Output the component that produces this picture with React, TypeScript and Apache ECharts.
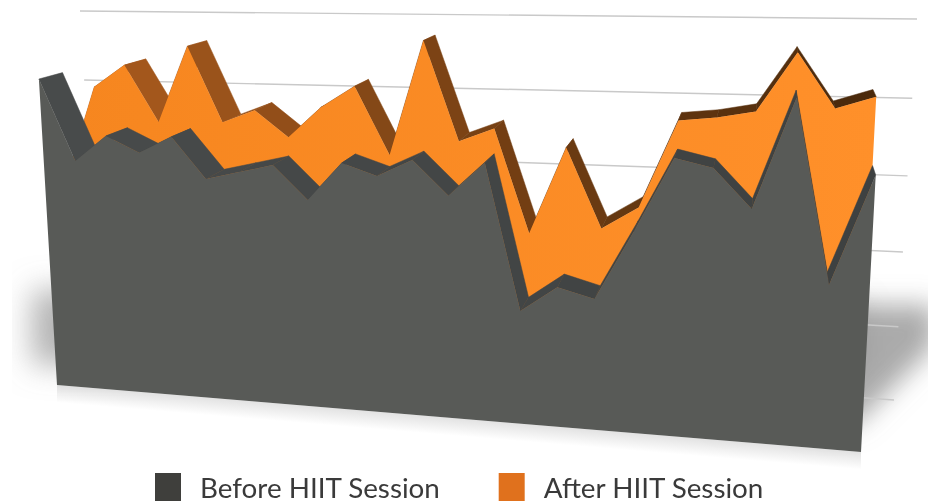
import React, { useEffect, useRef } from "react";
import * as echarts from "echarts";

const beforeValues = [86.2, 63.4, 70.7, 66.3, 71.0, 59.8, 62.0, 64.2, 55.2, 65.4, 62.3, 66.8, 57.8, 66.7, 28.9, 35.6, 33.1, 50.6, 69.5, 67.3, 57.5, 85.3, 39.8, 66.9];
const afterValues = [57.2, 82.2, 88.7, 72.6, 94.4, 73.1, 76.7, 69.4, 78.0, 84.0, 65.4, 96.8, 69.8, 73.5, 45.9, 69.0, 48.1, 54.0, 76.9, 77.9, 79.7, 94.9, 80.9, 84.1];
const gridValues = [0, 20, 40, 60, 80, 100];
const BEFORE = "Before HIIT Session";
const AFTER = "After HIIT Session";

const VP = [777, -120];
const warp = (s: number, r: number) => s / (r - (r - 1) * s);
const lerp = (a: number, b: number, t: number) => a + (b - a) * t;
const depth = (p: number[], k: number) => [p[0] + (VP[0] - p[0]) * k, p[1] + (VP[1] - p[1]) * k];

function frontPoint(c: number[], rect: any, k: number) {
  const u = warp((c[0] - rect.x) / rect.width, 1.15);
  const v = (rect.y + rect.height - c[1]) / rect.height;
  const bx = 57 + 804 * u, by = 385 + 67 * u, tx = 36 + 847 * u, ty = 30 + 8 * u;
  return depth([lerp(bx, tx, v), lerp(by, ty, v)], k);
}
function wallPoint(c: number[], rect: any) {
  const u = (c[0] - rect.x) / rect.width;
  const v = warp((rect.y + rect.height - c[1]) / rect.height, 1.05);
  return [lerp(lerp(100, 894, u), lerp(80, 917, u), v), lerp(lerp(343, 400, u), lerp(11, 19, u), v)];
}
function hex(c: number[]) {
  return "rgb(" + c.map((x) => Math.round(x)).join(",") + ")";
}

const faceSeries = (name: string, values: number[], k: number, fill: any, z: number, legendColor: string) => ({
  type: "custom",
  name,
  z,
  silent: true,
  coordinateSystem: "cartesian2d",
  itemStyle: { color: legendColor },
  data: values.map((v, i) => [i, v]),
  clip: false,
  renderItem: (params: any, api: any) => {
    if (params.dataIndex !== 0) return null;
    const rect = params.coordSys;
    const pts = values.map((v, i) => frontPoint(api.coord([i, v]), rect, k));
    pts.push(frontPoint(api.coord([values.length - 1, 0]), rect, k));
    pts.push(frontPoint(api.coord([0, 0]), rect, k));
    return { type: "polygon", shape: { points: pts }, style: { fill } };
  },
});

const sideSeries = (values: number[], k0: number, k1: number, from: number[], to: number[], z: number) => ({
  type: "custom",
  z,
  silent: true,
  coordinateSystem: "cartesian2d",
  data: values.map((v, i) => [i, v]),
  clip: false,
  renderItem: (params: any, api: any) => {
    const i = params.dataIndex;
    if (i >= values.length - 1) return null;
    const rect = params.coordSys;
    const a = api.coord([i, values[i]]);
    const b = api.coord([i + 1, values[i + 1]]);
    const t = i / (values.length - 2);
    const pts = [frontPoint(a, rect, k0), frontPoint(b, rect, k0), frontPoint(b, rect, k1), frontPoint(a, rect, k1)];
    const col = hex([0, 1, 2].map((n) => lerp(from[n], to[n], t)));
    return { type: "polygon", shape: { points: pts }, style: { fill: col, stroke: col, lineWidth: 0.5 } };
  },
});

// A polygon hidden behind the dark face that only throws its blurred shadow past the face's edge.
const castShadow = (points: number[][], offsetX: number, blur: number, color: string) => ({
  type: "polygon",
  z: 0,
  silent: true,
  shape: { points },
  style: { fill: "#5a5c59", shadowBlur: blur, shadowColor: color, shadowOffsetX: offsetX, shadowOffsetY: 0 },
});

export default function App() {
  const ref = useRef<HTMLDivElement>(null);
  useEffect(() => {
    document.body.style.margin = "0";
    const chart = echarts.init(ref.current!, undefined, { renderer: "svg" });
    chart.setOption({
      animation: false,
      backgroundColor: "#ffffff",
      grid: { left: 0, top: 0, right: 0, bottom: 0 },
      xAxis: { type: "value", min: 0, max: 23, show: false },
      yAxis: { type: "value", min: 0, max: 100, show: false },
      legend: {
        left: 155,
        top: 473,
        data: [BEFORE, AFTER],
        icon: "rect",
        itemWidth: 26,
        itemHeight: 28,
        itemGap: 58,
        padding: 0,
        selectedMode: false,
        textStyle: { fontFamily: "Lato", fontSize: 27.8, lineHeight: 26, color: "#3a3a3a", padding: [0, 0, 0, 14] },
      },
      graphic: {
        elements: [
          castShadow([[72, 290], [220, 290], [220, 365], [72, 365]], -40, 30, "rgba(130,130,130,0.6)"),
          castShadow([[700, 300], [845, 300], [845, 370], [700, 425]], 20, 26, "rgba(170,170,170,0.4)"),
          castShadow([[720, 305], [850, 305], [850, 345], [770, 425], [720, 425]], 85, 26, "rgba(125,125,125,0.65)"),
          { type: "rect", z: 0, silent: true, shape: { x: 0, y: 250, width: 12, height: 170 }, style: { fill: "#ffffff" } },
          {
            type: "polygon",
            z: 0,
            silent: true,
            shape: { points: [[57, 385], [861, 452], [861, 472], [57, 405]] },
            style: {
              fill: {
                type: "linear", global: true, x: 460, y: 418, x2: 458.5, y2: 436,
                colorStops: [{ offset: 0, color: "rgba(170,170,170,0.35)" }, { offset: 1, color: "rgba(170,170,170,0)" }],
              },
            },
          },
        ],
      },
      series: [
        {
          type: "custom",
          z: 1,
          silent: true,
          coordinateSystem: "cartesian2d",
          data: gridValues.map((g) => [0, g]),
          clip: false,
          renderItem: (params: any, api: any) => {
            const g = gridValues[params.dataIndex];
            const a = wallPoint(api.coord([0, g]), params.coordSys);
            const b = wallPoint(api.coord([23, g]), params.coordSys);
            return {
              type: "line",
              shape: { x1: a[0], y1: a[1], x2: b[0], y2: b[1] },
              style: { stroke: "#c9c9c9", lineWidth: 1.4 },
            };
          },
        },
        sideSeries(afterValues, 0.032, 0.064, [172, 92, 30], [75, 42, 12], 2),
        faceSeries(
          AFTER,
          afterValues,
          0.032,
          {
            type: "linear", global: true, x: 60, y: 0, x2: 880, y2: 0,
            colorStops: [{ offset: 0, color: "#f6861f" }, { offset: 1, color: "#ff902a" }],
          },
          3,
          "#e0711d"
        ),
        sideSeries(beforeValues, 0, 0.032, [72, 75, 75], [62, 65, 65], 4),
        faceSeries(BEFORE, beforeValues, 0, "#585a57", 5, "#3f3f3c"),
      ],
    });
    return () => chart.dispose();
  }, []);
  return <div ref={ref} style={{ width: 928, height: 502, filter: "blur(0.5px)" }} />;
}
